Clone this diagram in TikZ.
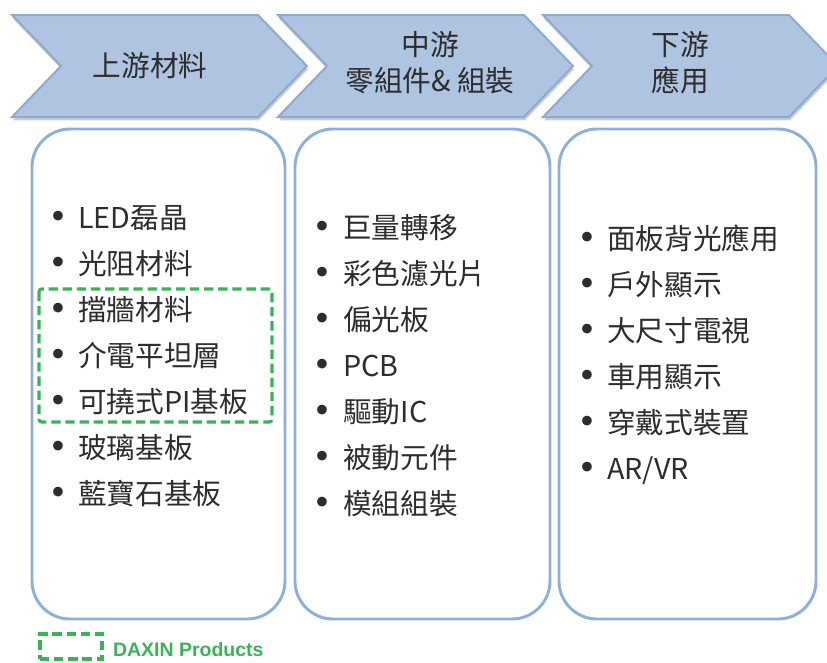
\documentclass[tikz,border=0pt]{standalone}
\usepackage{fontspec}
\setmainfont{Noto Sans CJK TC}
\newfontfamily\legendfont{Liberation Sans}
\usetikzlibrary{shadows,positioning}
\definecolor{chevfill}{RGB}{174,196,224}
\definecolor{chevline}{RGB}{141,170,210}
\definecolor{boxline}{RGB}{141,176,218}
\definecolor{daxin}{RGB}{55,180,85}
\definecolor{ink}{RGB}{45,45,45}

\begin{document}
\begin{tikzpicture}[x=0.75pt,y=-0.75pt,
  chev/.style={fill=chevfill,draw=chevline,line width=1.5pt,
    drop shadow={shadow xshift=0.6pt,shadow yshift=-2.6pt,opacity=0.4}},
  col/.style={draw=boxline,line width=2.2pt,rounded corners=28.5pt},
  head/.style={text=ink,font=\fontsize{21.5}{27}\selectfont,align=center,inner sep=0pt},
  item/.style={text=ink,font=\fontsize{21.5}{27}\selectfont,inner sep=0pt,anchor=west,
    text height=0.88em,text depth=0.12em},
  bul/.style={text=ink,font=\fontsize{21.5}{27}\selectfont,inner sep=0pt,scale=1.6},
  daxbox/.style={draw=daxin,line width=2.3pt,dash pattern=on 7pt off 3.6pt},
  legend/.style={text=daxin,font=\legendfont\bfseries\fontsize{14.6}{17}\selectfont,inner sep=0pt}]
\useasboundingbox (0,0) rectangle (827,662);
\pgfmathsetmacro\cw{246}
\pgfmathsetmacro\cd{49}
\pgfmathsetmacro\dy{46}

% value chain arrows
\foreach \cx in {12,278,543} {
  \draw[chev] (\cx,15) -- ++(\cw,0) -- ++(\cd,51) -- ++(-\cd,51) -- ++(-\cw,0)
    -- ++(\cd,-51) -- cycle;
}
\node[head] (up) at (150,66) {上游材料};
\node[head] (mid) at (430,63) {中游\\零組件\& 組裝};
\node[head] (down) at (680,63) {下游\\應用};

% columns
\draw[col] (32,129) rectangle (285,619);
\draw[col] (295,129) rectangle (550,619);
\draw[col] (559,129) rectangle (816,619);

\foreach \t [count=\i] in {LED磊晶,光阻材料,擋牆材料,介電平坦層,可撓式PI基板,玻璃基板,藍寶石基板} {
  \node[bul] (ub\i) at ({58},{222+\dy*(\i-1)}) {•};
  \node[item] (u\i) at ({78},{223+\dy*(\i-1)}) {\t};
}
\foreach \t [count=\i] in {巨量轉移,彩色濾光片,偏光板,PCB,驅動IC,被動元件,模組組裝} {
  \node[bul] (mb\i) at ({322},{232+\dy*(\i-1)}) {•};
  \node[item] (m\i) at ({343},{233+\dy*(\i-1)}) {\t};
}
\foreach \t [count=\i] in {面板背光應用,戶外顯示,大尺寸電視,車用顯示,穿戴式裝置,AR/VR} {
  \node[bul] (db\i) at ({587},{243+\dy*(\i-1)}) {•};
  \node[item] (d\i) at ({607},{244+\dy*(\i-1)}) {\t};
}

% DAXIN products
\draw[daxbox,rounded corners=2pt] (39,289) rectangle (272,422);
\node[daxbox,minimum width=46.5pt,minimum height=18.75pt,inner sep=0pt] (key) at (71,646.5) {};
\node[legend,right=7pt of key,yshift=-2pt] (keytext) {DAXIN Products};
\end{tikzpicture}
\end{document}
